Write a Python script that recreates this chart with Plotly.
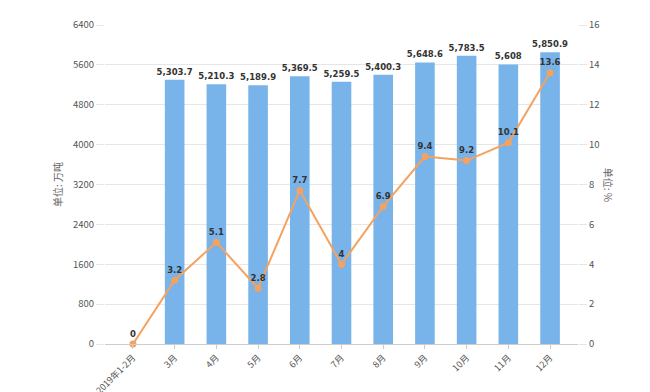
import plotly.graph_objects as go

categories = ["2019年1-2月", "3月", "4月", "5月", "6月", "7月", "8月", "9月", "10月", "11月", "12月"]
output_values = [None, 5303.7, 5210.3, 5189.9, 5369.5, 5259.5, 5400.3, 5648.6, 5783.5, 5608, 5850.9]
growth_values = [0, 3.2, 5.1, 2.8, 7.7, 4, 6.9, 9.4, 9.2, 10.1, 13.6]

def fmt(v):
    if v is None:
        return ""
    if v == int(v):
        return f"{int(v):,}"
    return f"{v:,.1f}"

bar_text = [fmt(v) for v in output_values]
line_text = [("%g" % v) for v in growth_values]

label_font = dict(size=8.5, color="#333333", family="DejaVu Sans", weight="bold")

fig = go.Figure()
fig.add_trace(go.Bar(
    x=categories, y=output_values, name="产量",
    marker=dict(color="#78b4ea", line=dict(width=0)),
    width=0.47,
    text=bar_text, textposition="outside", cliponaxis=False,
    constraintext="none",
    textfont=label_font,
))
fig.add_trace(go.Scatter(
    x=categories, y=growth_values, name="增速", yaxis="y2",
    mode="lines+markers+text",
    line=dict(color="#f4a25e", width=2),
    marker=dict(color="#f4a25e", size=7),
    text=line_text, textposition="top center", cliponaxis=False,
    textfont=label_font,
))

tick_font = dict(size=9.5, color="#555555", family="Noto Sans CJK SC, DejaVu Sans")

fig.update_layout(
    width=642, height=384,
    margin=dict(l=97, r=72, t=17, b=48),
    paper_bgcolor="white", plot_bgcolor="white",
    showlegend=False,
    font=dict(family="Noto Sans CJK SC, DejaVu Sans", size=10, color="#555555"),
    xaxis=dict(
        type="category", range=[-0.67, 10.67], automargin=False,
        tickangle=-45, tickfont=dict(size=9, color="#555555", family="Noto Sans CJK SC, DejaVu Sans"),
        ticklabeloverflow="allow",
        showline=True, linecolor="#cccccc", linewidth=1,
        ticks="outside", ticklen=4, tickcolor="#cccccc",
        showgrid=False,
    ),
    yaxis=dict(
        range=[0, 6400], dtick=800, tickformat="d", automargin=False,
        showgrid=True, gridcolor="#e6e6e6", zeroline=False,
        tickfont=tick_font,
        ticks="outside", ticklen=8, tickcolor="#e6e6e6",
        title=dict(text="单位: 万吨", font=dict(size=10, color="#666666"), standoff=8),
    ),
    yaxis2=dict(
        overlaying="y", side="right", automargin=False,
        range=[0, 16], dtick=2,
        showgrid=False, zeroline=False,
        tickfont=tick_font,
        ticks="outside", ticklen=8, tickcolor="#e6e6e6",
    ),
    annotations=[dict(
        text="单位: %", xref="paper", yref="paper", x=1.045, y=0.5,
        xanchor="left", yanchor="middle", showarrow=False, textangle=90,
        font=dict(size=10, color="#666666"),
    )],
)

fig.write_html("out.html")
